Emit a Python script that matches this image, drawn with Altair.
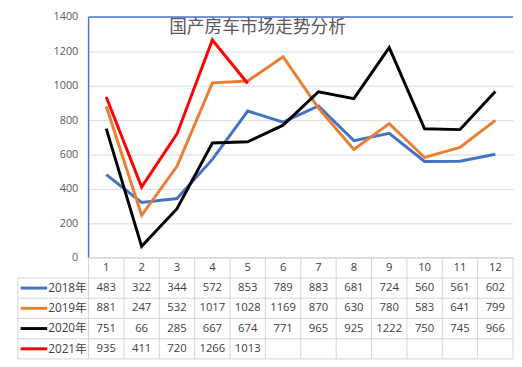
import altair as alt
import pandas as pd

months = list(range(1, 13))
series = ["2018年", "2019年", "2020年", "2021年"]
v2018 = [483, 322, 344, 572, 853, 789, 883, 681, 724, 560, 561, 602]
v2019 = [881, 247, 532, 1017, 1028, 1169, 870, 630, 780, 583, 641, 799]
v2020 = [751, 66, 285, 667, 674, 771, 965, 925, 1222, 750, 745, 966]
v2021 = [935, 411, 720, 1266, 1013]
colors = ["#4472C4", "#ED7D31", "#000000", "#FF0000"]
title_text = "国产房车市场走势分析"
y_ticks = [0, 200, 400, 600, 800, 1000, 1200, 1400]

all_vals = [v2018, v2019, v2020, v2021]

rows = []
for s, vals in zip(series, all_vals):
    for m, v in zip(months, vals):
        rows.append({"series": s, "month": m, "value": v})
df = pd.DataFrame(rows)

FONT = "Open Sans, 'Noto Sans CJK SC'"
CJK = "'Noto Sans CJK SC'"
GRID = "#d9d9d9"
TEXT = "#404040"
BLUE = "#4A76C2"

x_lo, x_hi = months[0] - 0.5, months[-1] + 0.5
xscale = alt.Scale(domain=[x_lo, x_hi], nice=False, zero=False)
yscale = alt.Scale(domain=[0, 1400], nice=False)
cscale = alt.Scale(domain=series, range=colors)
y_axis = alt.Axis(
    values=y_ticks, format="d", title=None, ticks=False, domain=False,
    labelPadding=11, gridColor=GRID, labelColor="#595959",
    labelFontSize=11, labelFont=FONT,
)

W = 432
H_TOP = 245
H_TAB = 103

lines = alt.Chart(df).mark_line(strokeWidth=3).encode(
    x=alt.X("month:Q", scale=xscale, axis=None),
    y=alt.Y("value:Q", scale=yscale, axis=y_axis),
    color=alt.Color("series:N", scale=cscale, legend=None),
)

border_df = pd.DataFrame({
    "month": [x_lo, x_lo],
    "month2": [x_hi, x_lo],
    "value": [1400, 0],
    "value2": [1400, 1400],
})
border = alt.Chart(border_df).mark_rule(color=BLUE, strokeWidth=1.5).encode(
    x=alt.X("month:Q", scale=xscale, axis=None),
    x2="month2:Q",
    y=alt.Y("value:Q", scale=yscale, axis=y_axis),
    y2="value2:Q",
)

title = alt.Chart(pd.DataFrame({"t": [title_text]})).mark_text(
    font=CJK, fontSize=18, color="#595959", align="center", baseline="middle"
).encode(text="t:N", x=alt.value(172), y=alt.value(11))

top = alt.layer(lines, border, title).properties(width=W, height=H_TOP)

# ---- data table ----
tab_rows = []
for m in months:
    tab_rows.append({"month": m, "row": 0.5, "label": str(m)})
for i, (s, vals) in enumerate(zip(series, all_vals)):
    for m, v in zip(months, vals):
        tab_rows.append({"month": m, "row": i + 1.5, "label": str(v)})
tdf = pd.DataFrame(tab_rows)

n_rows = len(series) + 1
tyscale = alt.Scale(domain=[0, n_rows], reverse=True, nice=False, zero=False)
lab_lo = x_lo - 2

cells = alt.Chart(tdf).mark_text(fontSize=11.5, font=FONT, color=TEXT).encode(
    x=alt.X("month:Q", scale=xscale, axis=None),
    y=alt.Y("row:Q", scale=tyscale, axis=None),
    text="label:N",
)

h_lines = []
for r in range(n_rows + 1):
    h_lines.append({"month": x_lo if r == 0 else lab_lo, "month2": x_hi, "row": r, "row2": r})
v_lines = []
for b in [m - 0.5 for m in months] + [x_hi]:
    v_lines.append({"month": b, "month2": b, "row": 0, "row2": n_rows})
v_lines.append({"month": lab_lo, "month2": lab_lo, "row": 1, "row2": n_rows})
gdf = pd.DataFrame(h_lines + v_lines)

grid = alt.Chart(gdf).mark_rule(color="#d4d4d4", strokeWidth=1).encode(
    x=alt.X("month:Q", scale=xscale, axis=None),
    x2="month2:Q",
    y=alt.Y("row:Q", scale=tyscale, axis=None),
    y2="row2:Q",
)

sw_df = pd.DataFrame({
    "series": series,
    "month": [lab_lo + 0.08] * len(series),
    "month2": [lab_lo + 0.83] * len(series),
    "row": [i + 1.5 for i in range(len(series))],
})
swatch = alt.Chart(sw_df).mark_rule(strokeWidth=3).encode(
    x=alt.X("month:Q", scale=xscale, axis=None),
    x2="month2:Q",
    y=alt.Y("row:Q", scale=tyscale, axis=None),
    color=alt.Color("series:N", scale=cscale, legend=None),
)
sw_text = alt.Chart(sw_df).mark_text(
    fontSize=12, font=FONT, color=TEXT, align="left", dx=1
).encode(
    x=alt.X("month2:Q", scale=xscale, axis=None),
    y=alt.Y("row:Q", scale=tyscale, axis=None),
    text="series:N",
)

table = alt.layer(grid, cells, swatch, sw_text).properties(width=W, height=H_TAB)

chart = alt.vconcat(top, table, spacing=0, bounds="flush").properties(
    padding={"left": 9, "top": 0, "right": 0, "bottom": 0},
    background="white",
).configure_view(stroke=None)

chart.save("out.html", embed_options={"renderer": "svg", "actions": False})
